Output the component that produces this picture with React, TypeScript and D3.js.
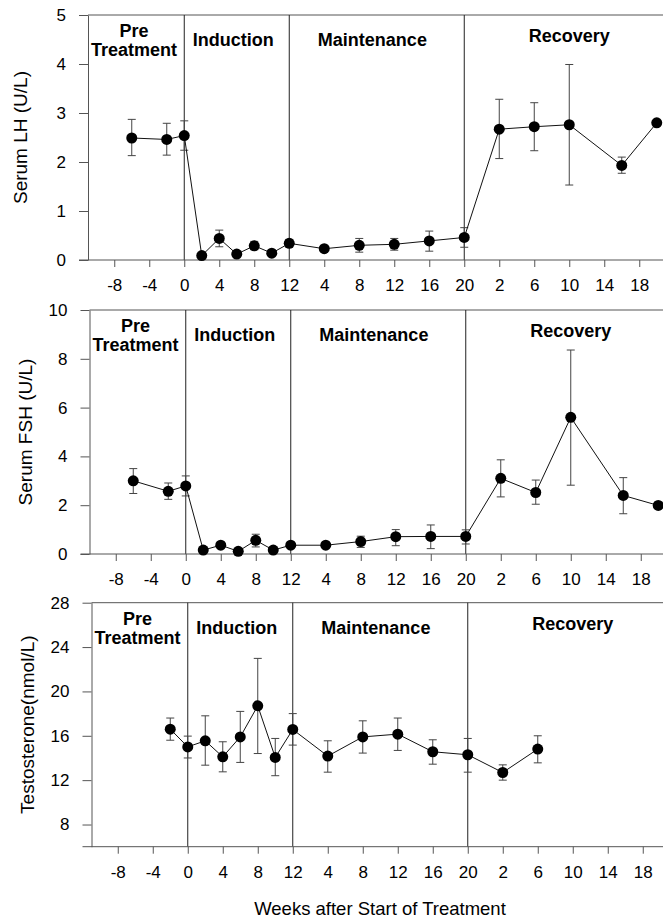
import React, { useEffect, useRef } from "react";
import * as d3 from "d3";

// [phase, week, mean, lower, upper]  P = pre/induction, M = maintenance, R = recovery
type Pt = [string, number, number, number | null, number | null];

const phaseOffset: Record<string, number> = { P: 0, M: 12, R: 34 };

const xTicks: [string, number][] = [
  ["P", -8], ["P", -4], ["P", 0], ["P", 4], ["P", 8], ["P", 12],
  ["M", 4], ["M", 8], ["M", 12], ["M", 16], ["M", 20],
  ["R", 2], ["R", 6], ["R", 10], ["R", 14], ["R", 18],
];

const phaseBounds: [string, number][] = [["P", 0], ["P", 12], ["M", 20]];

// label text + centre position on the week axis
const phaseLabels: [string, number][] = [
  ["Induction", 5.6],
  ["Maintenance", 21.5],
  ["Recovery", 44],
];
const preLabel: [string, string, number] = ["Pre", "Treatment", -5.75];

const lhData: Pt[] = [
  ["P", -6, 2.49, 2.13, 2.87],
  ["P", -2, 2.46, 2.14, 2.79],
  ["P", 0, 2.54, 2.24, 2.84],
  ["P", 2, 0.09, null, null],
  ["P", 4, 0.44, 0.27, 0.61],
  ["P", 6, 0.12, null, null],
  ["P", 8, 0.29, 0.21, 0.38],
  ["P", 10, 0.14, null, null],
  ["P", 12, 0.34, 0.27, 0.42],
  ["M", 4, 0.23, null, null],
  ["M", 8, 0.3, 0.16, 0.44],
  ["M", 12, 0.32, 0.2, 0.44],
  ["M", 16, 0.39, 0.18, 0.59],
  ["M", 20, 0.46, 0.26, 0.66],
  ["R", 2, 2.67, 2.07, 3.28],
  ["R", 6, 2.72, 2.23, 3.21],
  ["R", 10, 2.76, 1.53, 3.99],
  ["R", 16, 1.93, 1.77, 2.1],
  ["R", 20, 2.8, null, null],
];

const fshData: Pt[] = [
  ["P", -6, 3.0, 2.48, 3.5],
  ["P", -2, 2.57, 2.24, 2.91],
  ["P", 0, 2.79, 2.38, 3.2],
  ["P", 2, 0.16, null, null],
  ["P", 4, 0.36, null, null],
  ["P", 6, 0.11, null, null],
  ["P", 8, 0.56, 0.29, 0.81],
  ["P", 10, 0.16, null, null],
  ["P", 12, 0.36, null, null],
  ["M", 4, 0.36, null, null],
  ["M", 8, 0.51, 0.27, 0.73],
  ["M", 12, 0.71, 0.34, 1.0],
  ["M", 16, 0.72, 0.22, 1.19],
  ["M", 20, 0.72, 0.41, 0.99],
  ["R", 2, 3.1, 2.34, 3.86],
  ["R", 6, 2.52, 2.04, 3.03],
  ["R", 10, 5.6, 2.82, 8.36],
  ["R", 16, 2.4, 1.65, 3.13],
  ["R", 20, 1.99, 1.86, 2.12],
];

const testoData: Pt[] = [
  ["P", -2, 16.6, 15.6, 17.6],
  ["P", 0, 15.0, 14.0, 15.97],
  ["P", 2, 15.55, 13.35, 17.8],
  ["P", 4, 14.1, 12.75, 15.46],
  ["P", 6, 15.9, 13.6, 18.2],
  ["P", 8, 18.7, 14.4, 22.98],
  ["P", 10, 14.05, 12.4, 15.76],
  ["P", 12, 16.57, 15.16, 18.0],
  ["M", 4, 14.17, 12.72, 15.55],
  ["M", 8, 15.9, 14.44, 17.35],
  ["M", 12, 16.15, 14.68, 17.6],
  ["M", 16, 14.56, 13.44, 15.64],
  ["M", 20, 14.29, 12.72, 15.76],
  ["R", 2, 12.69, 12.0, 13.38],
  ["R", 6, 14.8, 13.56, 16.0],
];

const lhTicks = [0, 1, 2, 3, 4, 5];
const fshTicks = [0, 2, 4, 6, 8, 10];
const testoTicks = [8, 12, 16, 20, 24, 28];

const FONT = "'Liberation Sans', Arial, Helvetica, sans-serif";

const tOf = (phase: string, week: number) => phaseOffset[phase] + week;

function Panel(props: {
  data: Pt[];
  domain: [number, number];
  ticks: number[];
  top: number;
  bottom: number;
  dx: number;
  label: string;
  labelX: number;
}) {
  const { data, domain, ticks, top, bottom, dx, label, labelX } = props;
  const xRef = useRef<SVGGElement>(null);
  const yRef = useRef<SVGGElement>(null);

  const x = d3.scaleLinear().domain([-11, 55]).range([88 + dx, 665.5 + dx]);
  const y = d3.scaleLinear().domain(domain).range([bottom, top]);
  const left = x(-11);
  const right = 663;

  useEffect(() => {
    const ax = d3
      .axisBottom(x)
      .tickValues(xTicks.map((d) => tOf(d[0], d[1])))
      .tickFormat((d, i) => String(xTicks[i][1]))
      .tickSize(7)
      .tickSizeOuter(0)
      .tickPadding(12);
    const gx = d3.select(xRef.current!);
    gx.call(ax as any);
    gx.attr("font-size", 17).attr("font-family", FONT);
    gx.select(".domain").attr("stroke", "#555").attr("d", `M${left - 9},0H${right}`);
    gx.selectAll(".tick line").attr("stroke", "#555");

    const ay = d3
      .axisLeft(y)
      .tickValues(ticks)
      .tickFormat(d3.format("d") as any)
      .tickSize(9)
      .tickSizeOuter(0)
      .tickPadding(13);
    const gy = d3.select(yRef.current!);
    gy.call(ay as any);
    gy.attr("font-size", 17).attr("font-family", FONT);
    gy.select(".domain").attr("stroke", "#555");
    gy.selectAll(".tick line").attr("stroke", "#555");
  });

  const line = d3
    .line<Pt>()
    .x((p) => x(tOf(p[0], p[1])))
    .y((p) => y(p[2]));

  return (
    <g>
      <line x1={left} x2={right} y1={top} y2={top} stroke="#555" />
      {phaseBounds.map((b, i) => (
        <line
          key={i}
          x1={x(tOf(b[0], b[1]))}
          x2={x(tOf(b[0], b[1]))}
          y1={top}
          y2={bottom}
          stroke="#222"
        />
      ))}
      <g ref={xRef} transform={`translate(0,${bottom})`} />
      <g ref={yRef} transform={`translate(${left},0)`} />

      <g fontFamily={FONT} fontWeight="bold" fontSize={18} textAnchor="middle">
        <text x={x(preLabel[2])} y={top + 22}>{preLabel[0]}</text>
        <text x={x(preLabel[2])} y={top + 41}>{preLabel[1]}</text>
        {phaseLabels.map((p) => (
          <text key={p[0]} x={x(p[1])} y={top + (p[0] === "Recovery" ? 27 : 31)}>
            {p[0]}
          </text>
        ))}
      </g>

      <g stroke="#444" strokeWidth={1}>
        {data
          .filter((p) => p[3] !== null && p[4] !== null)
          .map((p, i) => {
            const cx = x(tOf(p[0], p[1]));
            return (
              <g key={i}>
                <line x1={cx} x2={cx} y1={y(p[3] as number)} y2={y(p[4] as number)} />
                <line x1={cx - 4} x2={cx + 4} y1={y(p[3] as number)} y2={y(p[3] as number)} />
                <line x1={cx - 4} x2={cx + 4} y1={y(p[4] as number)} y2={y(p[4] as number)} />
              </g>
            );
          })}
      </g>
      <path d={line(data) || ""} fill="none" stroke="#111" strokeWidth={1} />
      {data.map((p, i) => (
        <circle key={i} cx={x(tOf(p[0], p[1]))} cy={y(p[2])} r={5.5} fill="#000" />
      ))}

      <text
        transform={`translate(${labelX},${(top + bottom) / 2}) rotate(-90)`}
        textAnchor="middle"
        fontFamily={FONT}
        fontSize={19}
      >
        {label}
      </text>
    </g>
  );
}

export default function App() {
  return (
    <div style={{ position: "absolute", left: 0, top: 0 }}>
      <svg width={663} height={920} style={{ display: "block", background: "#fff" }}>
        <Panel data={lhData} domain={[0, 5]} ticks={lhTicks} top={15} bottom={260} dx={0} label="Serum LH (U/L)" labelX={27} />
        <Panel data={fshData} domain={[0, 10]} ticks={fshTicks} top={310} bottom={554} dx={1.5} label="Serum FSH (U/L)" labelX={32} />
        <Panel data={testoData} domain={[6, 28]} ticks={testoTicks} top={602.7} bottom={846.7} dx={3.5} label="Testosterone(nmol/L)" labelX={34} />
        <text x={380} y={915} textAnchor="middle" fontFamily={FONT} fontSize={18.5}>
          Weeks after Start of Treatment
        </text>
      </svg>
    </div>
  );
}
